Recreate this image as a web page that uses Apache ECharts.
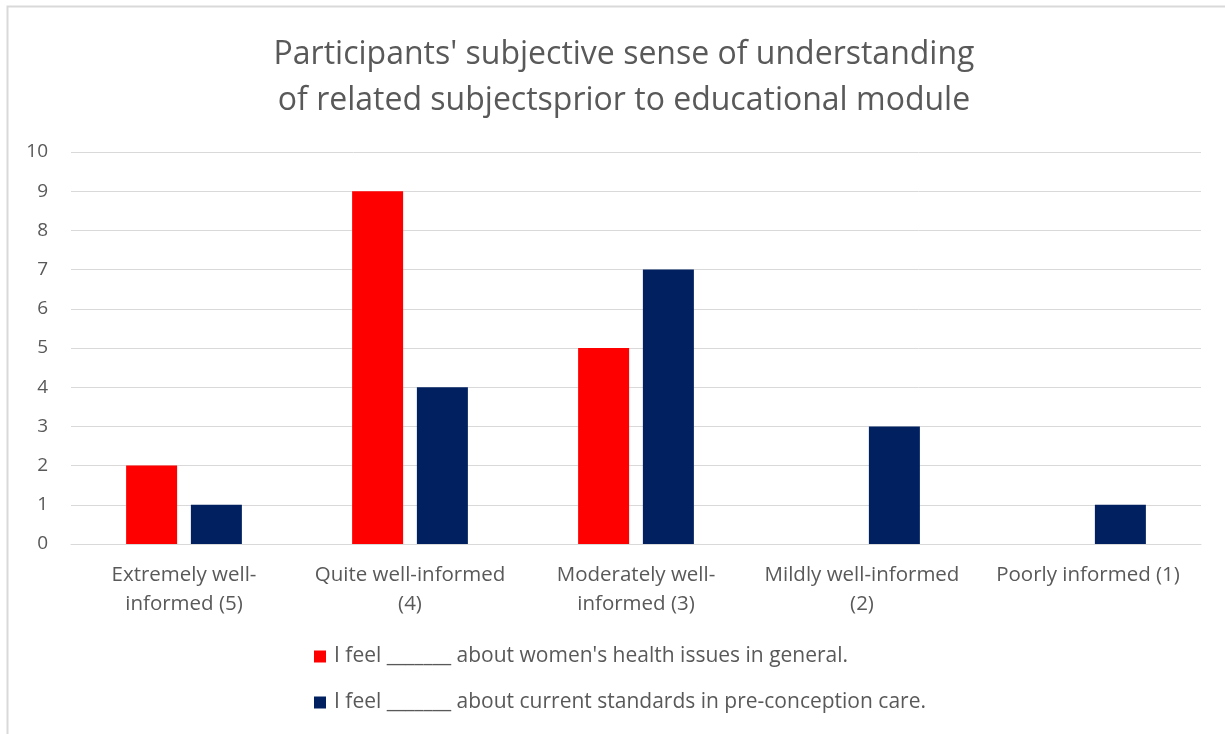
<!DOCTYPE html>
<html>
<head>
<meta charset="utf-8">
<script src="https://cdn.jsdelivr.net/npm/echarts@6/dist/echarts.min.js"></script>
<style>
  html, body { margin: 0; padding: 0; background: #fff; }
  #chart { width: 1225px; height: 734px; }
</style>
</head>
<body>
<div id="chart"></div>
<script>
// Response categories (self-rated level of understanding)
const categories = [
  'Extremely well-\ninformed (5)',
  'Quite well-informed\n(4)',
  'Moderately well-\ninformed (3)',
  'Mildly well-informed\n(2)',
  'Poorly informed (1)'
];

const seriesNames = [
  "I feel _______ about women's health issues in general.",
  'I feel _______ about current standards in pre-conception care.'
];

// Number of participants per response
const womensHealth = [2, 9, 5, 0, 0];
const preconceptionCare = [1, 4, 7, 3, 1];

const yTicks = { min: 0, max: 10, interval: 1 };

const FONT = '"Open Sans", Lato, sans-serif';
const TEXT = '#595959';

const chart = echarts.init(document.getElementById('chart'), null, { renderer: 'canvas' });

chart.setOption({
  backgroundColor: '#ffffff',
  animation: false,
  title: {
    text: "Participants' subjective sense of understanding\nof related subjectsprior to educational module",
    left: 619,
    textAlign: 'center',
    top: 27,
    textStyle: {
      fontFamily: FONT,
      fontSize: 32,
      fontWeight: 'normal',
      color: TEXT,
      lineHeight: 46
    }
  },
  graphic: [{
    type: 'rect',
    shape: { x: 7.5, y: 6.5, width: 1300, height: 800 },
    style: { fill: 'none', stroke: '#d9d9d9', lineWidth: 2 },
    silent: true,
    z: -1
  }],
  legend: {
    orient: 'vertical',
    left: 314,
    top: 646,
    padding: 0,
    itemWidth: 12,
    itemHeight: 12,
    itemGap: 25,
    icon: 'rect',
    textStyle: {
      fontFamily: FONT,
      fontSize: 21,
      color: TEXT,
      padding: [0, 0, 0, 3]
    },
    data: seriesNames
  },
  grid: {
    left: 71,
    right: 24,
    top: 152,
    bottom: 190,
    containLabel: false
  },
  xAxis: {
    type: 'category',
    data: categories,
    axisLine: { show: true, lineStyle: { color: '#d9d9d9', width: 1 } },
    axisTick: { show: false },
    axisLabel: {
      interval: 0,
      margin: 17,
      fontFamily: FONT,
      fontSize: 20.5,
      color: TEXT,
      lineHeight: 29
    }
  },
  yAxis: {
    type: 'value',
    min: yTicks.min,
    max: yTicks.max,
    interval: yTicks.interval,
    axisLine: { show: false },
    axisTick: { show: false },
    splitLine: { lineStyle: { color: '#d9d9d9', width: 1 } },
    axisLabel: {
      margin: 23,
      fontFamily: FONT,
      fontSize: 19,
      color: TEXT
    }
  },
  series: [
    {
      name: seriesNames[0],
      type: 'bar',
      data: womensHealth,
      barWidth: 51,
      barGap: '27%',
      itemStyle: { color: '#ff0000' }
    },
    {
      name: seriesNames[1],
      type: 'bar',
      data: preconceptionCare,
      barWidth: 51,
      barGap: '27%',
      itemStyle: { color: '#002060' }
    }
  ]
});
</script>
</body>
</html>
